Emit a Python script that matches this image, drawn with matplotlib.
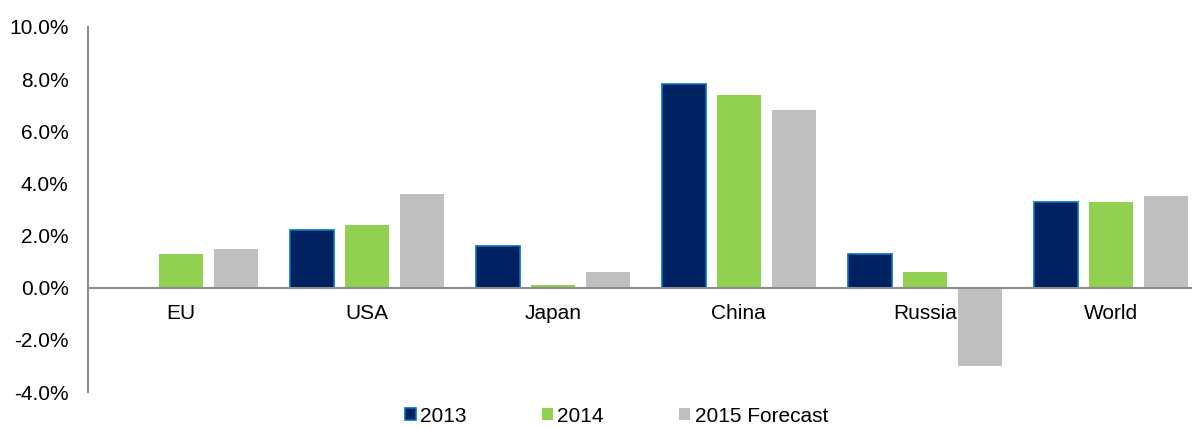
import numpy as np
import matplotlib
matplotlib.use("Agg")
import matplotlib.pyplot as plt
from matplotlib.patches import Patch

plt.rcParams.update({
    "font.family": ["Liberation Sans", "DejaVu Sans"],
    "font.size": 15,
})

regions = ["EU", "USA", "Japan", "China", "Russia", "World"]
growth_2013 = [0.0, 2.2, 1.6, 7.8, 1.3, 3.3]
growth_2014 = [1.3, 2.4, 0.1, 7.4, 0.6, 3.3]
growth_2015 = [1.5, 3.6, 0.6, 6.8, -3.0, 3.5]
series_labels = ["2013", "2014", "2015 Forecast"]
yticks = [-4, -2, 0, 2, 4, 6, 8, 10]

navy = "#002060"
navy_edge = "#0070C0"
green = "#92D050"
grey = "#BFBFBF"
axis_grey = "#8C8C8C"

fig = plt.figure(figsize=(11.92, 4.28), dpi=100)
# the plot area runs a little past the right edge of the picture
ax = fig.add_axes([0.0738, 0.084, 0.936, 0.853])

x = np.arange(len(regions))
w = 0.237
off = 0.296

ax.bar(x - off, growth_2013, w, color=navy, edgecolor=navy_edge, linewidth=1.2)
ax.bar(x, growth_2014, w, color=green, edgecolor="none")
ax.bar(x + off, growth_2015, w, color=grey, edgecolor="none")

ax.set_xlim(-0.5, len(regions) - 0.5)
ax.set_ylim(-4, 10)
ax.set_yticks(yticks)
ax.set_yticklabels([f"{t:.1f}%" for t in yticks])

ax.set_xticks(x)
ax.set_xticklabels(regions)
ax.spines["bottom"].set_position(("data", 0))
ax.spines["top"].set_visible(False)
ax.spines["right"].set_visible(False)
ax.spines["bottom"].set_color(axis_grey)
ax.spines["left"].set_color(axis_grey)
ax.spines["bottom"].set_linewidth(1.5)
ax.spines["left"].set_linewidth(1.5)
ax.tick_params(axis="x", length=0, pad=12)
ax.tick_params(axis="y", length=0, pad=14)
ax.set_axisbelow(True)

handles = [
    Patch(facecolor=navy, edgecolor=navy_edge, linewidth=1.2, label=series_labels[0]),
    Patch(facecolor=green, edgecolor="none", label=series_labels[1]),
    Patch(facecolor=grey, edgecolor="none", label=series_labels[2]),
]
fig.legend(handles=handles, loc="center", bbox_to_anchor=(0.517, 0.028), ncol=3,
           frameon=False, handlelength=0.55, handleheight=0.55, handletextpad=0.2,
           columnspacing=3.6, fontsize=15)

fig.savefig("out.png", dpi=100)
